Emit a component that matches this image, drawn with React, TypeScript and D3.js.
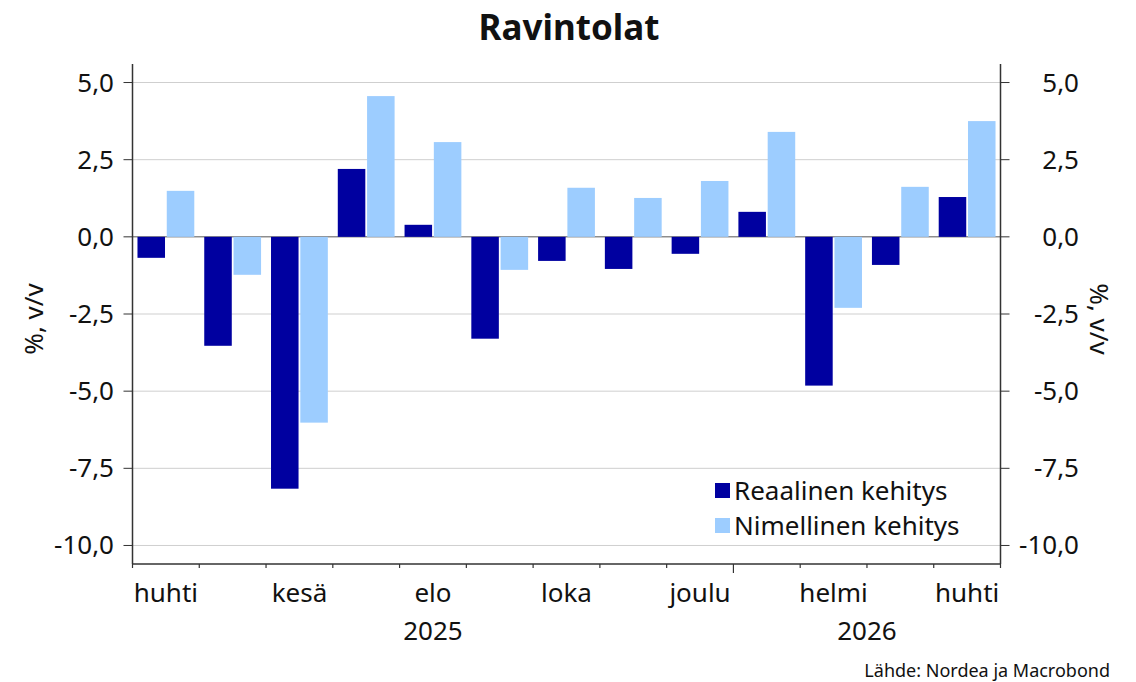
import React from "react";
import * as d3 from "d3";

const months = ["huhti", "touko", "kesä", "heinä", "elo", "syys", "loka", "marras", "joulu", "tammi", "helmi", "maalis", "huhti"];
const monthLabelShown = [true, false, true, false, true, false, true, false, true, false, true, false, true];
const real = [-0.68, -3.53, -8.16, 2.2, 0.39, -3.3, -0.78, -1.04, -0.55, 0.81, -4.82, -0.91, 1.29];
const nominal = [1.49, -1.23, -6.02, 4.56, 3.07, -1.07, 1.59, 1.26, 1.81, 3.4, -2.3, 1.62, 3.75];
const yTicks = [5, 2.5, 0, -2.5, -5, -7.5, -10];
const years = [{ label: "2025", from: 0, to: 9 }, { label: "2026", from: 9, to: 13 }];
const seriesNames = ["Reaalinen kehitys", "Nimellinen kehitys"];
const colors = ["#0000a0", "#9dcdff"];

const W = 1136, H = 682;
const left = 132.5, right = 1000.5, top = 64, bottom = 564;
const font = "'Noto Sans', sans-serif";

export default function App() {
  const x = d3.scaleLinear().domain([0, months.length]).range([left, right]);
  const y = d3.scaleLinear().domain([-10.6, 5.6]).range([bottom, top]);
  const band = d3.scaleBand().domain(["r", "n"]).range([0, x(1) - x(0)]).paddingInner(0.06).paddingOuter(0.17);
  const fmt = (v: number) => d3.format(".1f")(v).replace(".", ",").replace("−", "-");
  const series = [real, nominal];
  const keys = ["r", "n"];

  return (
    <svg width={W} height={H} style={{ position: "absolute", left: 0, top: 0, background: "#fff" }}>
      <text x={569} y={40} textAnchor="middle" fontFamily={font} fontWeight="bold" fontSize={35} fill="#111">Ravintolat</text>
      {yTicks.map((t) => (
        <g key={t}>
          <line x1={left} x2={right} y1={y(t)} y2={y(t)} stroke={t === 0 ? "#555" : "#cfcfcf"} strokeWidth={1} />
          <line x1={left - 9} x2={left} y1={y(t)} y2={y(t)} stroke="#333" />
          <line x1={right} x2={right + 9} y1={y(t)} y2={y(t)} stroke="#333" />
          <text x={114} y={y(t) + 9} textAnchor="end" fontFamily={font} fontSize={26} fill="#111">{fmt(t)}</text>
          <text x={1079} y={y(t) + 9} textAnchor="end" fontFamily={font} fontSize={26} fill="#111">{fmt(t)}</text>
        </g>
      ))}
      {series.map((vals, si) =>
        vals.map((v, i) => (
          <rect key={si + "-" + i} x={x(i) + (band(keys[si]) as number)} width={band.bandwidth()}
            y={y(Math.max(0, v))} height={Math.abs(y(v) - y(0))} fill={colors[si]} />
        ))
      )}
      <line x1={left} x2={left} y1={top} y2={bottom} stroke="#333" strokeWidth={1.5} />
      <line x1={right} x2={right} y1={top} y2={bottom} stroke="#333" strokeWidth={1.5} />
      <line x1={left} x2={right} y1={bottom} y2={bottom} stroke="#333" strokeWidth={1.5} />
      {d3.range(months.length + 1).map((i) => (
        <line key={i} x1={x(i)} x2={x(i)} y1={bottom} y2={bottom + (i === 9 ? 9 : 4)} stroke="#333" strokeWidth={1.2} />
      ))}
      {months.map((m, i) => monthLabelShown[i] ? (
        <text key={i} x={x(i + 0.5)} y={602} textAnchor="middle" fontFamily={font} fontSize={26} fill="#111">{m}</text>
      ) : null)}
      {years.map((yr) => (
        <text key={yr.label} x={(x(yr.from) + x(yr.to)) / 2} y={640} textAnchor="middle" fontFamily={font} fontSize={26} fill="#111">{yr.label}</text>
      ))}
      <text transform={`translate(43,319) rotate(-90)`} textAnchor="middle" fontFamily={font} fontSize={26} fill="#111">%, v/v</text>
      <text transform={`translate(1090,319) rotate(90)`} textAnchor="middle" fontFamily={font} fontSize={26} fill="#111">%, v/v</text>
      {seriesNames.map((n, i) => (
        <g key={n}>
          <rect x={715} y={483 + i * 35} width={15} height={15} fill={colors[i]} />
          <text x={734} y={500 + i * 35} fontFamily={font} fontSize={26} fill="#111">{n}</text>
        </g>
      ))}
      <text x={1110} y={677} textAnchor="end" fontFamily={font} fontSize={18} fill="#111">Lähde: Nordea ja Macrobond</text>
    </svg>
  );
}
